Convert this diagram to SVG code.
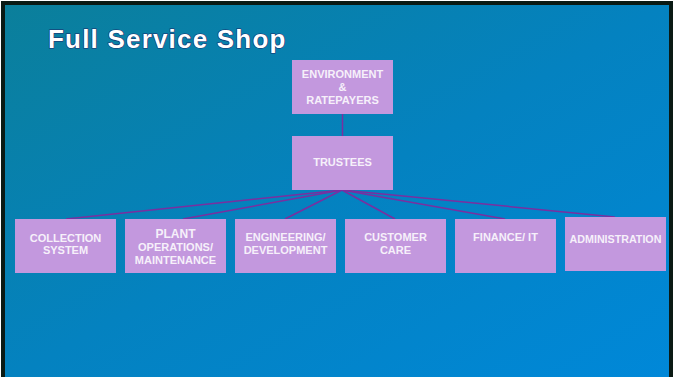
<svg xmlns="http://www.w3.org/2000/svg" width="684" height="377" viewBox="0 0 684 377">
<defs>
<linearGradient id="bg" x1="0" y1="0" x2="1" y2="1" gradientUnits="objectBoundingBox">
<stop offset="0" stop-color="#0b7f9a"/>
<stop offset="0.5" stop-color="#0482c0"/>
<stop offset="1" stop-color="#0088d9"/>
</linearGradient>
<style>
.box{fill:#c398de;}
.t{font-family:"Liberation Sans",Arial,sans-serif;font-weight:bold;font-size:11px;fill:#f6f0fa;text-anchor:middle;}
.c{stroke:#7a2fa0;stroke-width:1.5;fill:none;}
.title{font-family:"Liberation Sans",Arial,sans-serif;font-weight:bold;font-size:26px;fill:#ffffff;stroke:#1b2a6b;stroke-width:1.2;paint-order:stroke;letter-spacing:1.2px;}
</style>
</defs>
<rect x="0" y="0" width="684" height="377" fill="#ffffff"/>
<rect x="3" y="3" width="668" height="380" fill="url(#bg)" stroke="#0a1a14" stroke-width="4"/>
<text class="title" x="48" y="48">Full Service Shop</text>
<g id="connectors">
<line class="c" x1="342.5" y1="114" x2="342.5" y2="136"/>
<line class="c" x1="342" y1="190" x2="66" y2="219"/>
<line class="c" x1="342" y1="190" x2="183" y2="219"/>
<line class="c" x1="342" y1="190" x2="285" y2="219"/>
<line class="c" x1="342" y1="190" x2="395" y2="219"/>
<line class="c" x1="342" y1="190" x2="505" y2="219"/>
<line class="c" x1="342" y1="190" x2="615" y2="217"/>
</g>
<g id="environment">
<rect class="box" x="292" y="60" width="101" height="54"/>
<text class="t" x="342.5" y="78">ENVIRONMENT</text>
<text class="t" x="342.5" y="91">&amp;</text>
<text class="t" x="342.5" y="104">RATEPAYERS</text>
</g>
<g id="trustees">
<rect class="box" x="292" y="136" width="101" height="54"/>
<text class="t" x="342.5" y="166">TRUSTEES</text>
</g>
<g id="collection">
<rect class="box" x="15" y="219" width="101" height="54"/>
<text class="t" x="65.5" y="241.5">COLLECTION</text>
<text class="t" x="65.5" y="254">SYSTEM</text>
</g>
<g id="plant">
<rect class="box" x="125" y="219" width="101" height="54"/>
<text class="t" x="175.5" y="237.5" style="font-size:12px">PLANT</text>
<text class="t" x="175.5" y="250.5">OPERATIONS/</text>
<text class="t" x="175.5" y="263.5">MAINTENANCE</text>
</g>
<g id="engineering">
<rect class="box" x="235" y="219" width="101" height="54"/>
<text class="t" x="285.5" y="241">ENGINEERING/</text>
<text class="t" x="285.5" y="254">DEVELOPMENT</text>
</g>
<g id="customer">
<rect class="box" x="345" y="219" width="101" height="54"/>
<text class="t" x="395.5" y="241">CUSTOMER</text>
<text class="t" x="395.5" y="254">CARE</text>
</g>
<g id="finance">
<rect class="box" x="455" y="219" width="101" height="54"/>
<text class="t" x="505.5" y="241">FINANCE/ IT</text>
</g>
<g id="administration">
<rect class="box" x="565" y="217" width="101" height="54"/>
<text class="t" x="615.5" y="242.5" style="font-size:10.7px">ADMINISTRATION</text>
</g>
</svg>
